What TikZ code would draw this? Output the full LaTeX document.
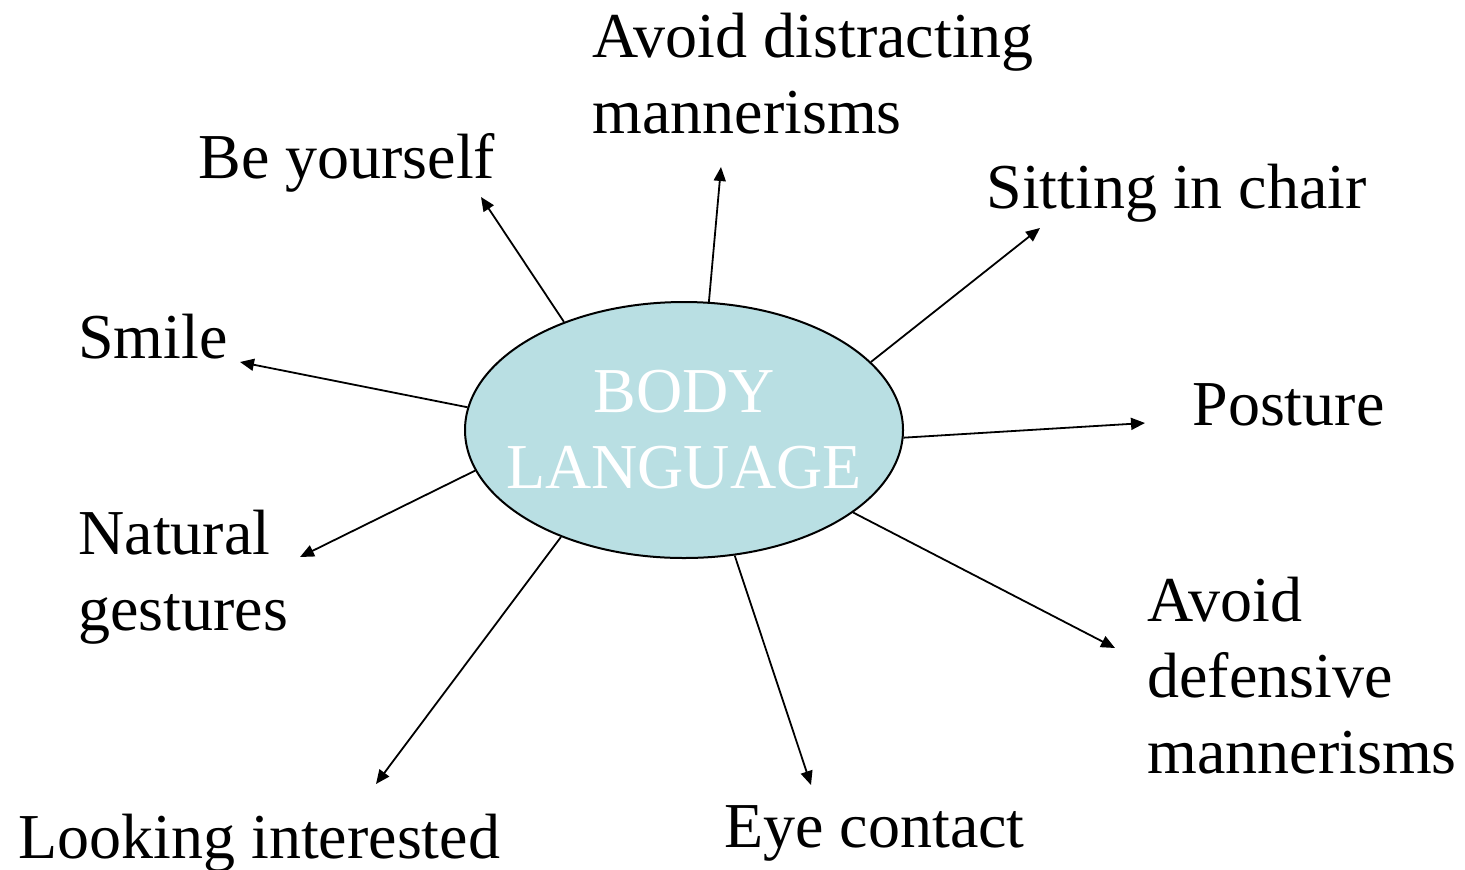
\documentclass[tikz,border=0pt]{standalone}
\usepackage{fontspec}
\setmainfont{Liberation Serif}
\usetikzlibrary{arrows.meta,shapes.geometric}
\definecolor{hubblue}{HTML}{B9DFE3}
\tikzset{
  hub/.style={draw,ellipse,fill=hubblue,line width=1pt,minimum width=219pt,minimum height=128pt,inner xsep=-12pt,inner ysep=0pt,align=center,text=white,font=\fontsize{32}{38}\selectfont},
  lbl/.style={anchor=base west,align=left,inner sep=0pt,font=\fontsize{32}{38}\selectfont},
  arr/.style={-{Triangle[length=7pt,width=6pt]},line width=0.9pt}
}

\begin{document}
\begin{tikzpicture}[x=0.5pt,y=-0.5pt]
\useasboundingbox (0,0) rectangle (1465,869);

\node[hub] (body) at (684,430) {BODY\\LANGUAGE};

% labels round the hub (base = last line)
\node[lbl] (avoiddis) at (592,133) {Avoid distracting\\mannerisms};
\node[lbl] (beself) at (198,178) {Be yourself};
\node[lbl] (sitting) at (986,208) {Sitting in chair};
\node[lbl] (smile) at (78,358) {Smile};
\node[lbl] (posture) at (1192,425) {Posture};
\node[lbl] (natural) at (78,630) {Natural\\gestures};
\node[lbl] (avoiddef) at (1147,773) {Avoid\\defensive\\mannerisms};
\node[lbl] (eye) at (724,847) {Eye contact};
\node[lbl] (looking) at (18,858) {Looking interested};

% arrow tips
\coordinate (tavoiddis) at (721,167);
\coordinate (tbeself) at (481,197);
\coordinate (tsitting) at (1040,228);
\coordinate (tsmile) at (240,362);
\coordinate (tposture) at (1145,423);
\coordinate (tnatural) at (300,557);
\coordinate (tavoiddef) at (1115,648);
\coordinate (teye) at (811,785);
\coordinate (tlooking) at (376,784);

\draw[arr] (body.79.5) -- (tavoiddis);
\draw[arr] (body.138.5) -- (tbeself);
\draw[arr] (body.20) -- (tsitting);
\draw[arr] (body.174) -- (tsmile);
\draw[arr] (body.358) -- (tposture);
\draw[arr] (body.191) -- (tnatural);
\draw[arr] (body.334) -- (tavoiddef);
\draw[arr] (body.292.6) -- (teye);
\draw[arr] (body.221.7) -- (tlooking);
\end{tikzpicture}
\end{document}
